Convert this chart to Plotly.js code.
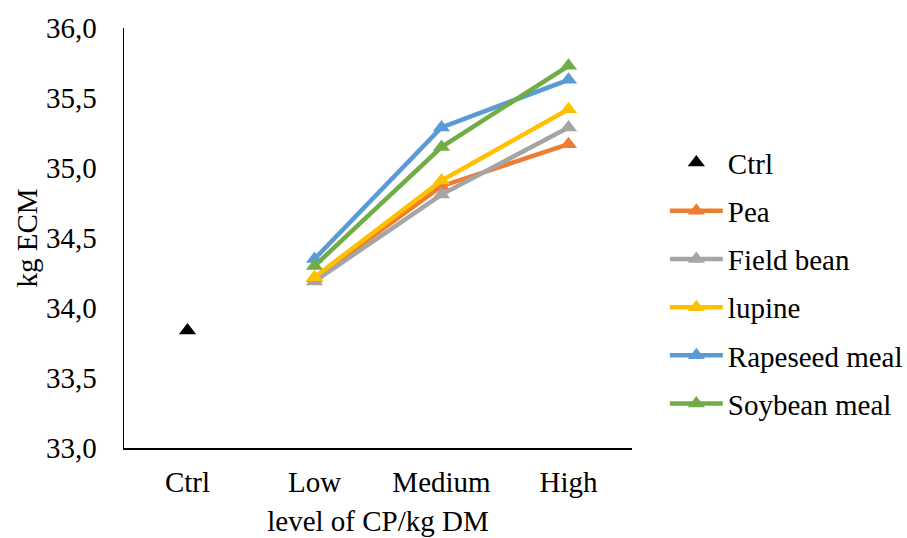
<!DOCTYPE html>
<html>
<head>
<meta charset="utf-8">
<script src="https://cdn.plot.ly/plotly-3.0.1.min.js"></script>
<style>html,body{margin:0;padding:0;background:#fff;}#chart{width:907px;height:538px;}</style>
</head>
<body>
<div id="chart"></div>
<script>
var categories = ['Ctrl', 'Low', 'Medium', 'High'];
var levels = ['Low', 'Medium', 'High'];
var ctrlValue = [33.84];
var pea = [34.21, 34.87, 35.17];
var fieldBean = [34.19, 34.81, 35.29];
var lupine = [34.22, 34.91, 35.42];
var rapeseedMeal = [34.35, 35.29, 35.63];
var soybeanMeal = [34.30, 35.15, 35.73];
var seriesNames = ['Pea', 'Field bean', 'lupine', 'Rapeseed meal', 'Soybean meal'];
var seriesValues = [pea, fieldBean, lupine, rapeseedMeal, soybeanMeal];
var seriesColors = ['#ED7D31', '#A5A5A5', '#FFC000', '#5B9BD5', '#70AD47'];
var yTicks = [33, 33.5, 34, 34.5, 35, 35.5, 36];
var yTickText = ['33,0', '33,5', '34,0', '34,5', '35,0', '35,5', '36,0'];

var fam = 'Liberation Serif';
var traces = [{
  type: 'scatter', mode: 'markers', name: 'Ctrl',
  x: ['Ctrl'], y: ctrlValue,
  marker: {symbol: 'triangle-up', size: 15, color: '#000000'},
  legendgroup: 'g0'
}];
seriesNames.forEach(function (n, i) {
  traces.push({
    type: 'scatter', mode: 'lines+markers', name: n,
    x: levels, y: seriesValues[i],
    line: {color: seriesColors[i], width: 4.5},
    marker: {symbol: 'triangle-up', size: 15, color: seriesColors[i]},
    legendgroup: 'g' + (i + 1)
  });
});

var layout = {
  width: 907, height: 538,
  margin: {l: 124, r: 275, t: 28, b: 90},
  paper_bgcolor: '#fff', plot_bgcolor: '#fff',
  font: {family: fam, size: 29, color: '#000'},
  showlegend: true,
  legend: {
    xref: 'container', yref: 'container', x: 0.733, y: 0.745, yanchor: 'top', xanchor: 'left',
    font: {family: fam, size: 29, color: '#000'},
    itemwidth: 53,
    tracegroupgap: 7.5, bgcolor: 'rgba(0,0,0,0)', maxheight: 500
  },
  xaxis: {
    type: 'category', categoryorder: 'array', categoryarray: categories,
    range: [-0.5, 3.5],
    showline: true, linecolor: '#000', linewidth: 1.5,
    showgrid: false, zeroline: false, ticks: '',
    ticklabelstandoff: 8,
    tickfont: {family: fam, size: 29, color: '#000'},
    title: {text: 'level of CP/kg DM', font: {family: fam, size: 29, color: '#000'}, standoff: 13}
  },
  yaxis: {
    range: [33, 36], tickvals: yTicks, ticktext: yTickText,
    showline: true, linecolor: '#000', linewidth: 1.5,
    showgrid: false, zeroline: false, ticks: '',
    ticklabelstandoff: 20,
    tickfont: {family: fam, size: 29, color: '#000'},
    title: {text: 'kg ECM', font: {family: fam, size: 29, color: '#000'}, standoff: 0}
  }
};
Plotly.newPlot('chart', traces, layout, {displayModeBar: false, staticPlot: true});
</script>
</body>
</html>
